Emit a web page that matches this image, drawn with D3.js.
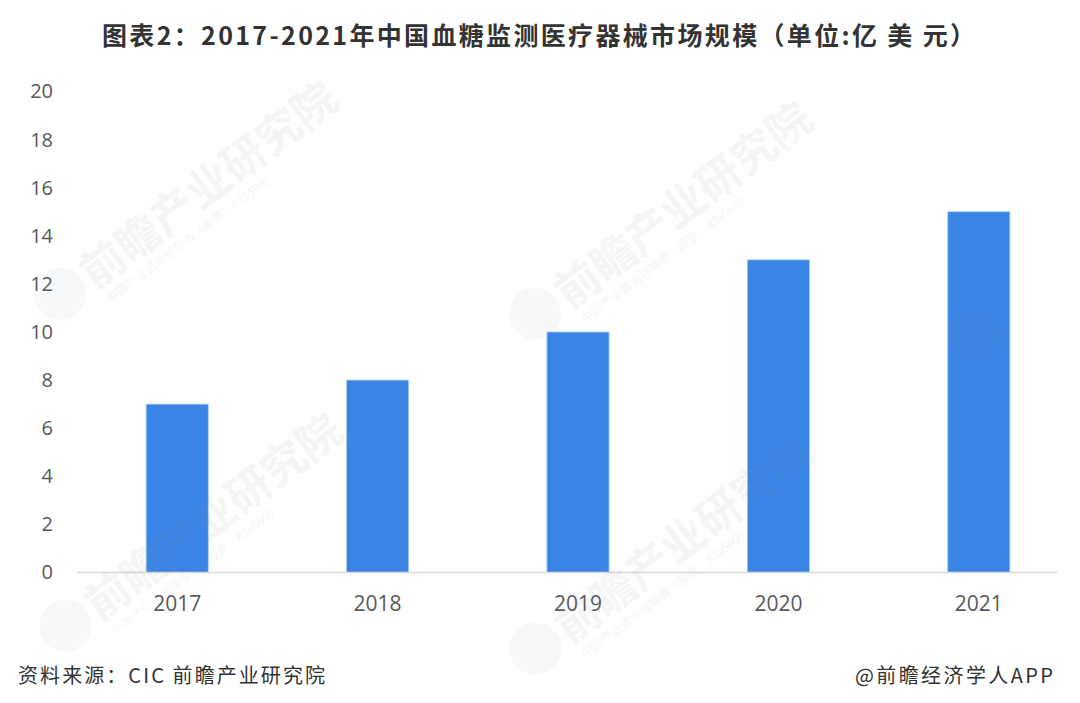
<!DOCTYPE html>
<html><head><meta charset="utf-8">
<script src="https://cdn.jsdelivr.net/npm/d3@7"></script>
<style>
html,body{margin:0;padding:0;background:#fff;}
svg{display:block;}
</style></head>
<body>
<svg id="chart" width="1080" height="703"></svg>
<script>
const categories = ["2017","2018","2019","2020","2021"];
const values = [7, 8, 10, 13, 15];
const yTicks = [0,2,4,6,8,10,12,14,16,18,20];
const titleText = "图表2：2017-2021年中国血糖监测医疗器械市场规模（单位:亿 美 元）";
const sourceText = "资料来源：CIC 前瞻产业研究院";
const creditText = "@前瞻经济学人APP";
const watermarkText = "前瞻产业研究院";
const watermarkSub = "中国产业咨询领导者（股票：839599）";

const svg = d3.select("#chart");
const cjk = "'Noto Sans CJK SC', 'Noto Sans', sans-serif";
const num = "'Open Sans', 'Noto Sans', sans-serif";

const x = d3.scaleBand().domain(categories).range([77, 1079]).paddingInner(0.69).paddingOuter(0.345);
const y = d3.scaleLinear().domain([0, 20]).range([572.5, 91.5]);

// title
svg.append("text").attr("x", 102).attr("y", 45)
  .attr("font-family", cjk).attr("font-weight", 700).attr("font-size", 25)
  .attr("textLength", 873).attr("lengthAdjust", "spacing")
  .attr("fill", "#333").text(titleText);

// y axis labels
const yAxis = d3.axisLeft(y).tickValues(yTicks).tickSize(0).tickPadding(0);
const gy = svg.append("g").attr("transform","translate(53,0)").call(yAxis);
gy.select(".domain").remove();
gy.selectAll("text").attr("font-family", num).attr("font-size", 20).attr("fill","#595959");

// bars
svg.append("g").selectAll("rect").data(values).join("rect")
  .attr("x", (d,i)=>x(categories[i]))
  .attr("width", x.bandwidth())
  .attr("y", d=>y(d))
  .attr("height", d=>y(0)-y(d))
  .attr("fill", "#3a84e6")
  .attr("stroke", "#a8cdf4").attr("stroke-width", 0.8);

// baseline
svg.append("line").attr("x1",77).attr("x2",1057).attr("y1",y(0)).attr("y2",y(0))
  .attr("stroke","#d9d9d9").attr("stroke-width",1.5);

// x axis labels
const xAxis = d3.axisBottom(x).tickSize(0).tickPadding(0);
const gx = svg.append("g").attr("transform","translate(0,611)").call(xAxis);
gx.select(".domain").remove();
gx.selectAll("text").attr("font-family", num).attr("font-size", 21).attr("fill","#595959").attr("dy","0");

// watermarks (faint decoration)
const wm = svg.append("g").attr("pointer-events","none");
[[95,290,true],[570,310,true],[1010,330,false],[100,622,true],[570,645,true]].forEach(([wx,wy,withText])=>{
  const g = wm.append("g").attr("transform",`translate(${wx},${wy}) rotate(-37)`);
  g.append("circle").attr("cx",-30).attr("cy",-18).attr("r",26).attr("fill","#7f8c99").attr("opacity",0.06);
  if (withText) {
    g.append("text").attr("x",0).attr("y",0).attr("font-family",cjk).attr("font-weight",700)
      .attr("font-size",44).attr("fill","#7f8c99").attr("opacity",0.08).text(watermarkText);
    g.append("text").attr("x",4).attr("y",20).attr("font-family",cjk)
      .attr("font-size",12).attr("fill","#7f8c99").attr("opacity",0.08).text(watermarkSub);
  }
});

// footer
svg.append("text").attr("x", 18).attr("y", 683).attr("font-family", cjk).attr("font-size", 20)
  .attr("textLength", 307).attr("lengthAdjust","spacing")
  .attr("fill","#333").text(sourceText);
svg.append("text").attr("x", 855).attr("y", 683).attr("font-family", cjk).attr("font-size", 20)
  .attr("textLength", 198).attr("lengthAdjust","spacing")
  .attr("fill","#333").text(creditText);
</script>
</body></html>
